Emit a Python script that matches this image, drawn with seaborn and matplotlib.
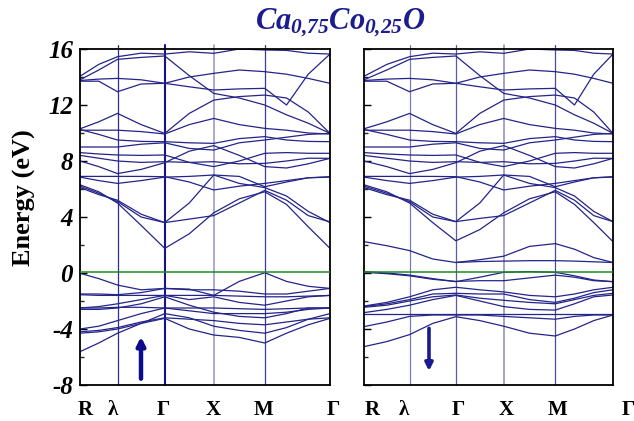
import numpy as np
import pandas as pd
import matplotlib
matplotlib.use("Agg")
import matplotlib.pyplot as plt
import seaborn as sns
from matplotlib.ticker import MultipleLocator

# ---------------- data ----------------
title = r"$Ca_{0{,}75}Co_{0{,}25}O$"
path_labels = ["R", "λ", "Γ", "X", "M", "Γ"]
# high-symmetry positions (fraction of path) for each panel
hs_up = [0.0, 0.150, 0.339, 0.535, 0.739, 1.0]
hs_dn = [0.0, 0.183, 0.369, 0.561, 0.768, 1.0]
fermi_level = 0.1
# energies at nodes: R, R-λ, λ, λ-Γ, Γ, Γ-X, X, X-M, M, M-Γ(1/3), M-Γ(2/3), Γ
upper_bands = {
    "U1": [14.05, 14.9, 15.45, 15.7, 15.64, 15.8, 15.69, 16.0, 15.93, 15.9, 15.7, 15.64],
    "U2": [13.8, 14.5, 15.26, 15.4, 15.5, 14.1, 12.83, 12.5, 12.0, 11.3, 10.7, 9.97],
    "U3": [13.7, 13.7, 12.95, 13.5, 13.55, 14.0, 14.26, 14.5, 14.38, 14.2, 13.9, 13.55],
    "U4": [13.75, 13.85, 13.9, 13.8, 13.55, 13.3, 13.07, 13.15, 13.19, 12.0, 14.2, 15.64],
    "U5": [10.3, 10.8, 11.4, 10.6, 9.97, 11.4, 12.35, 12.6, 12.71, 12.5, 11.5, 9.97],
    "U6": [10.2, 10.2, 10.2, 10.1, 9.93, 10.6, 11.04, 10.6, 10.33, 10.2, 10.0, 9.93],
    "U7": [10.25, 9.9, 9.5, 9.4, 9.38, 9.3, 9.26, 9.6, 9.74, 9.5, 9.4, 9.38],
    "U8": [9.0, 9.0, 9.0, 9.2, 9.3, 8.9, 8.78, 9.3, 9.5, 9.7, 9.9, 9.97],
    "U9": [8.6, 8.5, 8.43, 8.4, 8.43, 7.9, 7.6, 8.0, 8.55, 8.6, 8.55, 8.55],
    "U10": [8.4, 8.2, 8.0, 7.9, 7.95, 7.9, 7.95, 7.8, 7.83, 8.0, 8.2, 8.19],
    "U11": [8.0, 7.6, 7.1, 7.4, 7.88, 8.7, 9.1, 8.4, 7.6, 7.5, 7.8, 8.19],
    "U12": [6.9, 6.9, 6.9, 6.9, 6.88, 6.5, 5.93, 6.2, 6.4, 6.6, 6.8, 6.88],
    "U13": [6.85, 6.6, 6.4, 6.6, 6.85, 6.9, 7.0, 6.9, 6.16, 6.5, 6.8, 6.85],
}
spin_up_bands = {
    "C1": [6.3, 5.8, 5.0, 3.4, 1.76, 2.8, 4.3, 5.3, 5.8, 4.9, 3.3, 1.76],
    "C2": [6.2, 5.7, 5.1, 4.0, 3.6, 5.0, 7.0, 6.4, 6.1, 5.5, 4.4, 3.6],
    "C3": [6.1, 5.6, 5.2, 4.2, 3.6, 3.85, 4.1, 5.0, 5.9, 5.2, 4.1, 3.65],
    "V1": [-0.02, -0.4, -0.86, -1.2, -1.1, -1.15, -1.6, -0.6, 0.02, -0.6, -0.95, -1.1],
    "V2": [-1.5, -1.5, -1.55, -1.4, -1.1, -1.2, -1.2, -1.3, -1.5, -1.5, -1.3, -1.1],
    "V3": [-1.55, -1.6, -1.6, -1.6, -1.6, -1.6, -1.6, -1.65, -1.7, -1.7, -1.65, -1.6],
    "V4": [-2.5, -2.4, -2.2, -1.9, -1.6, -1.9, -1.7, -2.1, -2.3, -2.0, -1.7, -1.6],
    "V5": [-2.5, -2.5, -2.45, -2.45, -2.5, -2.5, -2.5, -2.55, -2.6, -2.55, -2.5, -2.5],
    "V6": [-2.6, -2.6, -2.5, -2.2, -1.7, -2.3, -2.8, -3.1, -3.2, -2.9, -2.5, -2.5],
    "V7": [-4.0, -3.8, -3.4, -2.9, -2.5, -2.7, -2.9, -2.9, -2.9, -2.8, -2.6, -2.5],
    "V8": [-4.2, -4.1, -3.9, -3.5, -3.2, -3.3, -3.4, -3.6, -3.7, -3.5, -3.3, -3.2],
    "V9": [-4.3, -4.2, -4.0, -3.6, -2.9, -3.2, -3.8, -4.1, -4.3, -3.9, -3.3, -2.9],
    "V10": [-5.62, -5.0, -4.3, -3.6, -3.24, -4.0, -4.43, -4.6, -5.0, -4.3, -3.7, -3.24],
}
spin_dn_bands = {
    "C1": [6.3, 5.8, 5.0, 3.6, 2.3, 3.1, 4.3, 5.3, 5.8, 4.9, 3.6, 2.24],
    "C2": [6.2, 5.7, 5.1, 4.0, 3.67, 5.0, 7.0, 6.4, 6.1, 5.5, 4.4, 3.67],
    "C3": [6.1, 5.6, 5.2, 4.2, 3.67, 3.9, 4.1, 5.0, 5.9, 5.2, 4.1, 3.67],
    "C4": [2.24, 1.95, 1.6, 1.0, 0.75, 0.95, 1.2, 1.9, 2.1, 1.7, 1.1, 0.75],
    "C5": [np.nan, np.nan, np.nan, np.nan, 0.75, 0.82, 0.85, 0.88, 0.88, 0.85, 0.8, 0.75],
    "V1": [0.1, 0.0, -0.15, -0.4, -0.62, -0.3, 0.05, 0.1, 0.05, -0.2, -0.5, -0.62],
    "V2": [0.05, -0.05, -0.2, -0.45, -0.6, -0.55, -0.55, -0.35, -0.15, -0.3, -0.55, -0.62],
    "V3": [-2.36, -2.1, -1.7, -1.2, -1.02, -1.2, -1.35, -1.6, -1.7, -1.5, -1.2, -1.02],
    "V4": [-2.4, -2.2, -1.9, -1.5, -1.45, -1.5, -1.5, -1.9, -2.1, -1.8, -1.4, -1.2],
    "V5": [-2.45, -2.3, -2.0, -1.7, -1.57, -1.8, -1.95, -2.1, -2.2, -1.9, -1.6, -1.45],
    "V6": [-2.83, -2.6, -2.3, -1.9, -1.6, -2.0, -2.4, -2.6, -2.65, -2.2, -1.7, -1.57],
    "V7": [-2.95, -2.95, -2.95, -2.95, -2.95, -2.95, -2.95, -2.95, -2.95, -2.95, -2.95, -2.95],
    "V8": [-3.83, -3.5, -3.1, -3.0, -3.0, -3.0, -3.1, -3.2, -3.3, -3.1, -3.0, -3.0],
    "V9": [-5.26, -4.9, -4.4, -3.6, -3.12, -3.4, -3.8, -4.3, -4.5, -4.0, -3.4, -3.0],
}
y_ticks = [-8, -4, 0, 4, 8, 12, 16]
# ---------------- style ----------------
sns.set_theme(style="white")
plt.rcParams["font.family"] = ["Liberation Serif", "DejaVu Serif"]
plt.rcParams["mathtext.fontset"] = "custom"
plt.rcParams["mathtext.rm"] = "Liberation Serif:bold:italic"
plt.rcParams["mathtext.it"] = "Liberation Serif:bold:italic"
plt.rcParams["mathtext.bf"] = "Liberation Serif:bold:italic"

band_color = "#24248a"
W, H = 634, 421
fig = plt.figure(figsize=(W / 100, H / 100), dpi=100)
ax_up = fig.add_axes([80 / W, 1 - 385 / H, 250 / W, 336 / H])
ax_dn = fig.add_axes([364 / W, 1 - 385 / H, 249 / W, 336 / H])


def nodes(hs):
    R, L, G, X, M, G2 = hs
    return [R, (R + L) / 2, L, (L + G) / 2, G, (G + X) / 2, X, (X + M) / 2,
            M, M + (G2 - M) / 3, M + 2 * (G2 - M) / 3, G2]


def frame(hs, bands):
    k = nodes(hs)
    rows = []
    for name, vals in bands.items():
        for kk, e in zip(k, vals):
            rows.append({"band": name, "k": kk, "E": e})
    return pd.DataFrame(rows).dropna()


panels = [
    (ax_up, hs_up, {**upper_bands, **spin_up_bands},
     ["#2e2e92", "#14148a", "#a4a4cc", "#3a3a98"], [0.9, 1.5, 1.3, 0.9]),
    (ax_dn, hs_dn, {**upper_bands, **spin_dn_bands},
     ["#7a7ab6", "#5a5aa6", "#8a8abc", "#4a4aa0"], [0.9, 0.9, 1.1, 0.9]),
]
for ax, hs, bands, vcols, vlws in panels:
    df = frame(hs, bands)
    sns.lineplot(data=df, x="k", y="E", units="band", estimator=None,
                 sort=False, color=band_color, lw=0.9, ax=ax, legend=False)
    for x, c, lw in zip(hs[1:5], vcols, vlws):
        ax.axvline(x, ymin=0, ymax=1.012, color=c, lw=lw, clip_on=False, zorder=1)
    ax.axhline(fermi_level, color="#1e8a1e", lw=1.1, zorder=3)
    ax.set_xlim(0, 1)
    ax.set_ylim(-8, 16)
    ax.set_xlabel("")
    ax.set_ylabel("")
    ax.set_xticks([])
    ax.yaxis.set_major_locator(MultipleLocator(4))
    ax.yaxis.set_minor_locator(MultipleLocator(2))
    ax.tick_params(axis="y", which="major", direction="in", length=5, width=1,
                   left=True, right=False, labelsize=18, pad=5, colors="black")
    ax.tick_params(axis="y", which="minor", direction="in", length=3, width=1,
                   left=True, right=False)
    for s in ax.spines.values():
        s.set_color("black")
        s.set_linewidth(1.3)

ax_up.set_yticks(y_ticks)
ax_up.set_yticklabels([str(t) for t in y_ticks], fontweight="bold", fontstyle="italic")
ax_dn.set_yticks(y_ticks)
ax_dn.set_yticklabels([])

# spin arrows
ax_up.annotate("", xy=(0.244, -4.55), xytext=(0.244, -7.55),
               arrowprops=dict(arrowstyle="-|>", lw=3.2, color="#0c0c8c",
                               mutation_scale=12, shrinkA=0, shrinkB=0))
ax_dn.annotate("", xy=(0.261, -7.0), xytext=(0.261, -3.95),
               arrowprops=dict(arrowstyle="-|>", lw=2.6, color="#1a1a90",
                               mutation_scale=11, shrinkA=0, shrinkB=0))

# path labels
label_px_up = [85, 113, 163, 213, 263, 333]
label_px_dn = [372, 404, 458, 506, 557, 628]
for px_list in (label_px_up, label_px_dn):
    for px, lab in zip(px_list, path_labels):
        fig.text(px / W, 1 - 410 / H, lab, ha="center", va="center",
                 fontsize=15, fontweight="bold", color="black")

fig.text(24 / W, 1 - 198 / H, "Energy (eV)", rotation=90, ha="center",
         va="center", fontsize=19, fontweight="bold", color="black")
fig.text(340 / W, 1 - 23 / H, title, ha="center", va="center",
         fontsize=22, color="#1c1c8e")

fig.savefig("out.png", dpi=100)
